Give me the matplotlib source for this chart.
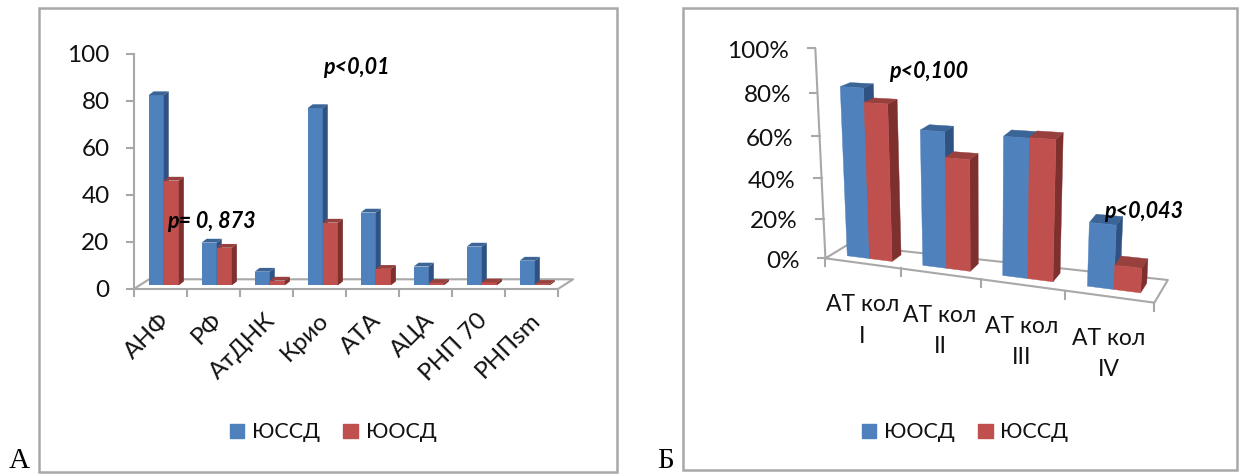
#!/bin/env python3

import matplotlib
matplotlib.use("Agg")
import matplotlib.pyplot as plt
from matplotlib.patches import Patch, Rectangle

plt.rcParams['font.family'] = ['Lato', 'Noto Sans', 'DejaVu Sans']

cats_a = ['АНФ', 'РФ', 'АтДНК', 'Крио', 'АТА', 'АЦА', 'РНП 70', 'РНПsm']
yussd_a = [81, 18.2, 5.8, 75.5, 31, 8, 16.5, 10.5]
yuosd_a = [44.6, 16, 2, 26.7, 7, 1, 1.2, 0.6]
yticks_a = [0, 20, 40, 60, 80, 100]
names_a = ['ЮССД', 'ЮОСД']

cats_b = ['АТ кол\nI', 'АТ кол\nII', 'АТ кол\nIII', 'АТ кол\nIV']
yuosd_b = [82, 64.7, 64.7, 29.6]
yussd_b = [75.5, 53, 65, 11.4]
yticks_b = [0, 20, 40, 60, 80, 100]
names_b = ['ЮОСД', 'ЮССД']

BLUE = ('#4f81bd', '#3a6596', '#2f5282')
RED = ('#c0504d', '#97403d', '#7d302e')
GRAY = '#a8a8a8'
TXT = '#111111'
FS = 17.5

fig = plt.figure(figsize=(12.4, 4.75), dpi=100)

# pixel canvas for the frames, the letters and the panel B projection
bg = fig.add_axes([0, 0, 1, 1])
bg.set_xlim(0, 1240)
bg.set_ylim(475, 0)
bg.axis('off')

bg.add_patch(Rectangle((39, 8), 578, 464, fc='white', ec=GRAY, lw=1.8))
bg.add_patch(Rectangle((683, 8), 554, 462, fc='white', ec=GRAY, lw=1.8))
bg.text(9, 468, 'А', family='Liberation Serif', fontsize=21, color='black', va='baseline')
bg.text(657, 468, 'Б', family='Liberation Serif', fontsize=21, color='black', va='baseline')


# panel A
ax_left, ax_right = 134.3, 558.4
ax = fig.add_axes([ax_left / 1240, 1 - 288.7 / 475, (ax_right - ax_left) / 1240, 234.7 / 475])
ax.patch.set_alpha(0)
ax.set_xlim(0, 8)
ax.set_ylim(0, 100)
for s in ['top', 'right']:
    ax.spines[s].set_visible(False)
for s in ['left', 'bottom']:
    ax.spines[s].set_color(GRAY)
    ax.spines[s].set_linewidth(1.5)

px_x = 8 / (ax_right - ax_left)
px_y = 100 / 234.7
floor_x, floor_y = 14.7 * px_x, 9.4 * px_y
ax.plot([0, floor_x, 8 + floor_x, 8], [0, floor_y, floor_y, 0], color=GRAY, lw=1.5, clip_on=False)

base = 3.4 * px_y
depth_x, depth_y = 5 * px_x, 3.8 * px_y
width = 0.285
left = 0.27


def bars_a(xs, vals, cols):
    ax.bar(xs, vals, width, bottom=base, align='edge', color=cols[0], zorder=3)
    for x, v in zip(xs, vals):
        top = base + v
        ax.fill([x, x + width, x + width + depth_x, x + depth_x],
                [top, top, top + depth_y, top + depth_y], color=cols[1], lw=0, zorder=3)
        ax.fill([x + width, x + width + depth_x, x + width + depth_x, x + width],
                [base, base + depth_y, top + depth_y, top], color=cols[2], lw=0, zorder=3)


bars_a([i + left for i in range(len(cats_a))], yussd_a, BLUE)
bars_a([i + left + width for i in range(len(cats_a))], yuosd_a, RED)

ax.set_yticks(yticks_a)
ax.tick_params(axis='y', length=5.8, width=1.5, color=GRAY, labelsize=FS, labelcolor=TXT, pad=12)
ax.set_xticks(range(len(cats_a) + 1))
ax.set_xticklabels([])
ax.tick_params(axis='x', which='major', length=6, width=1.5, color=GRAY)
ax.set_xticks([i + 0.46 for i in range(len(cats_a))], minor=True)
ax.set_xticklabels(cats_a, minor=True, rotation=45, ha='right', va='top', rotation_mode='anchor')
ax.tick_params(axis='x', which='minor', length=0, labelsize=FS, labelcolor=TXT, pad=15)

ax.text(323, 67, 'p<0,01', transform=bg.transData, fontsize=15.5, weight='bold', style='italic', color='black',
        va='center')
ax.text(167, 221, 'p= 0, 873', transform=bg.transData, fontsize=15.5, weight='bold', style='italic', color='black',
        va='center', zorder=10)


def add_legend(names, x):
    handles = [Patch(color=BLUE[0], label=names[0]), Patch(color=RED[0], label=names[1])]
    fig.legend(handles=handles, loc='center', bbox_to_anchor=(x / 1240, 1 - 432.5 / 475), ncol=2, frameon=False,
               fontsize=15.5, handlelength=0.68, handleheight=0.68, handletextpad=0.35, columnspacing=1.1,
               labelcolor=TXT)


add_legend(names_a, 333)


# panel B, a small perspective: u along the categories, v the value, d the floor depth
def proj(u, v, d):
    s = 191.1 * u / (1 - 0.027 * u)
    fx, fy = 483 + s, 775 + s * 133 / 857
    bx, by = 540 + s * 835 / 857, 735 + s * 105 / 857
    x = fx + d * (bx - fx)
    y = fy + d * (by - fy)
    rise = (5.8 * v + 0.005 * v * v) / (1 - 0.027 * u) * (1 - 0.027 * d)
    x = x + (x - 900) * rise / 10000
    y = y - rise
    return 640 + x / 2.605, y / 3


def line_b(pts):
    xy = [proj(*p) for p in pts]
    bg.plot([p[0] for p in xy], [p[1] for p in xy], color=GRAY, lw=1.5, solid_capstyle='butt')


def poly_b(pts, col):
    xy = [proj(*p) for p in pts]
    bg.fill([p[0] for p in xy], [p[1] for p in xy], color=col, lw=0.3, zorder=3)


line_b([(0, 100, 0), (0, 0, 0), (4, 0, 0), (4, 0, 1), (0, 0, 1), (0, 0, 0)])
for i in range(5):
    x, y = proj(i, 0, 0)
    bg.plot([x, x], [y, y + 8], color=GRAY, lw=1.5)
for v in yticks_b:
    x, y = proj(0, v, 0)
    bg.plot([x - 7.5, x], [y, y], color=GRAY, lw=1.5)
    bg.text(x - 26, y + 3, f'{v}%', fontsize=FS, color=TXT, ha='right', va='center')

d0, d1 = 0.33, 0.77
for i in range(len(cats_b)):
    for u0, v, cols in [(i + 0.2, yuosd_b[i], BLUE), (i + 0.5, yussd_b[i], RED)]:
        u1 = u0 + 0.3
        poly_b([(u1, 0, d0), (u1, 0, d1), (u1, v, d1), (u1, v, d0)], cols[2])
        poly_b([(u0, v, d0), (u1, v, d0), (u1, v, d1), (u0, v, d1)], cols[1])
        poly_b([(u0, 0, d0), (u1, 0, d0), (u1, v, d0), (u0, v, d0)], cols[0])
    x, y = proj(i + 0.5, 0, 0)
    bg.text(x, y + 31, cats_b[i], fontsize=16.5, color=TXT, ha='center', va='top', linespacing=1.6, zorder=4)

bg.text(889, 72, 'p<0,100', fontsize=15.5, weight='bold', style='italic', color='black', va='center', zorder=10)
bg.text(1104, 211, 'p<0,043', fontsize=15.5, weight='bold', style='italic', color='black', va='center', zorder=10)

add_legend(names_b, 965)

fig.savefig('out.png', dpi=100)
